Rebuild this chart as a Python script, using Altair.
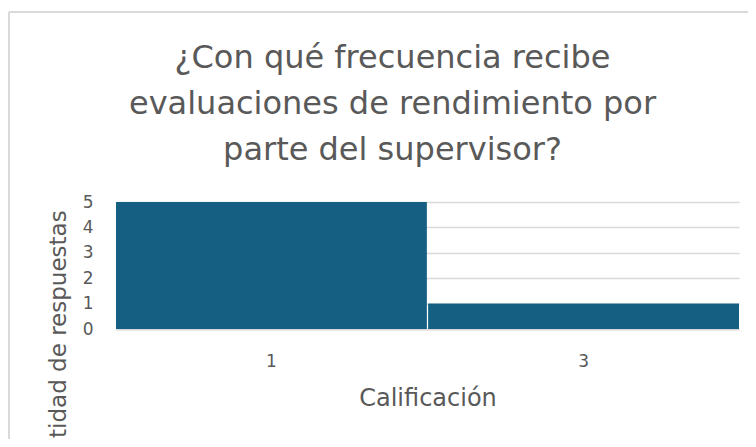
import altair as alt
import pandas as pd

categories = ["1", "3"]
counts = [5, 1]
title_lines = ["¿Con qué frecuencia recibe", "evaluaciones de rendimiento por", "parte del supervisor?"]
y_ticks = [0, 1, 2, 3, 4, 5]

df = pd.DataFrame({"Calificación": categories, "Cantidad": counts})

TXT = "#595959"
GRID = "#D9D9D9"
FONT = "DejaVu Sans"

bars = alt.Chart(df).mark_bar(color="#156082").encode(
    x=alt.X("Calificación:N",
            scale=alt.Scale(paddingInner=0.004, paddingOuter=0),
            axis=alt.Axis(title="Calificación", labelAngle=0, labelFontSize=17,
                          labelColor=TXT, labelFont=FONT, labelPadding=24,
                          ticks=False, domainColor=GRID, domainWidth=2,
                          titleFontSize=24, titleColor=TXT, titleFont=FONT,
                          titleFontWeight="normal", titlePadding=17)),
    y=alt.Y("Cantidad:Q",
            scale=alt.Scale(domain=[0, 5], nice=False),
            axis=alt.Axis(title="Cantidad de respuestas", values=y_ticks, format="d",
                          labelFontSize=17, labelColor=TXT, labelFont=FONT,
                          labelPadding=23, ticks=False, domain=False,
                          gridColor=GRID, gridWidth=1.5,
                          titleFontSize=23, titleColor=TXT, titleFont=FONT,
                          titleFontWeight="normal", titleAngle=270, titleAlign="center",
                          titleBaseline="middle", titleX=-58, titleY=144)),
)

frame_top = alt.Chart(alt.Data(values=[{}])).mark_rule(color=GRID, strokeWidth=2).encode(
    x=alt.value(-107), x2=alt.value(640), y=alt.value(-190))
frame_left = alt.Chart(alt.Data(values=[{}])).mark_rule(color=GRID, strokeWidth=2).encode(
    x=alt.value(-107), y=alt.value(-190), y2=alt.value(250))

chart = alt.layer(frame_top, frame_left, bars).properties(
    width=623, height=127,
    title=alt.TitleParams(text=title_lines, fontSize=32, font=FONT,
                          fontWeight="normal", color=TXT, lineHeight=46,
                          anchor="middle", dx=-35, offset=-181, frame="group",
                          baseline="alphabetic"),
    autosize=alt.AutoSizeParams(type="none"),
    padding={"left": 108, "top": 194, "right": 9, "bottom": 110},
).configure_view(stroke=None)

chart.save("out.html", embed_options={"renderer": "svg", "actions": False})
